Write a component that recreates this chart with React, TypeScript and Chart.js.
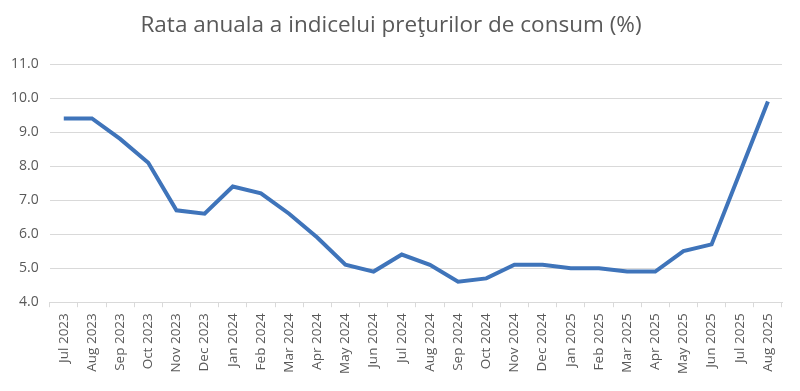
import React, { useEffect, useRef } from "react";
import { Chart, registerables } from "chart.js";

Chart.register(...registerables);

const categories = [
  "Jul 2023", "Aug 2023", "Sep 2023", "Oct 2023", "Nov 2023", "Dec 2023",
  "Jan 2024", "Feb 2024", "Mar 2024", "Apr 2024", "May 2024", "Jun 2024",
  "Jul 2024", "Aug 2024", "Sep 2024", "Oct 2024", "Nov 2024", "Dec 2024",
  "Jan 2025", "Feb 2025", "Mar 2025", "Apr 2025", "May 2025", "Jun 2025",
  "Jul 2025", "Aug 2025",
];

const inflation = [
  9.4, 9.4, 8.8, 8.1, 6.7, 6.6,
  7.4, 7.2, 6.6, 5.9, 5.1, 4.9,
  5.4, 5.1, 4.6, 4.7, 5.1, 5.1,
  5.0, 5.0, 4.9, 4.9, 5.5, 5.7,
  7.8, 9.9,
];

const titleText = "Rata anuala a indicelui preţurilor de consum (%)";
const yMin = 4;
const yMax = 11;
const yStep = 1;

export default function App() {
  const ref = useRef<HTMLCanvasElement | null>(null);

  useEffect(() => {
    document.body.style.margin = "0";
    if (!ref.current) return;
    const chart = new Chart(ref.current, {
      type: "line",
      data: {
        labels: categories,
        datasets: [
          {
            data: inflation,
            borderColor: "#3F74BA",
            borderWidth: 4,
            pointRadius: 0,
            tension: 0,
            fill: false,
          },
        ],
      },
      options: {
        animation: false,
        responsive: false,
        maintainAspectRatio: false,
        layout: { padding: { left: 0, right: 18, top: 10, bottom: 11 } },
        plugins: {
          legend: { display: false },
          tooltip: { enabled: false },
          title: {
            display: true,
            text: titleText,
            color: "#595959",
            font: { family: "'Open Sans', sans-serif", size: 22.5, weight: "normal" },
            padding: { top: 2, bottom: 25 },
          },
        },
        scales: {
          x: {
            offset: true,
            grid: {
              display: true,
              drawOnChartArea: false,
              drawTicks: true,
              tickLength: 5,
              color: "#d9d9d9",
              offset: true,
            },
            border: { display: true, color: "#d9d9d9" },
            ticks: {
              color: "#595959",
              minRotation: 90,
              maxRotation: 90,
              autoSkip: false,
              padding: 6,
              font: { family: "'Open Sans', sans-serif", size: 13.5 },
            },
          },
          y: {
            min: yMin,
            max: yMax,
            grid: { color: "#d9d9d9", drawTicks: false },
            border: { display: false },
            ticks: {
              stepSize: yStep,
              color: "#595959",
              padding: 11,
              font: { family: "'Open Sans', sans-serif", size: 14 },
              callback: (v: any) => Number(v).toFixed(1),
            },
          },
        },
      },
    });
    return () => chart.destroy();
  }, []);

  return (
    <div style={{ position: "absolute", left: 0, top: 0, width: 800, height: 391 }}>
      <canvas ref={ref} width={800} height={391} />
    </div>
  );
}
